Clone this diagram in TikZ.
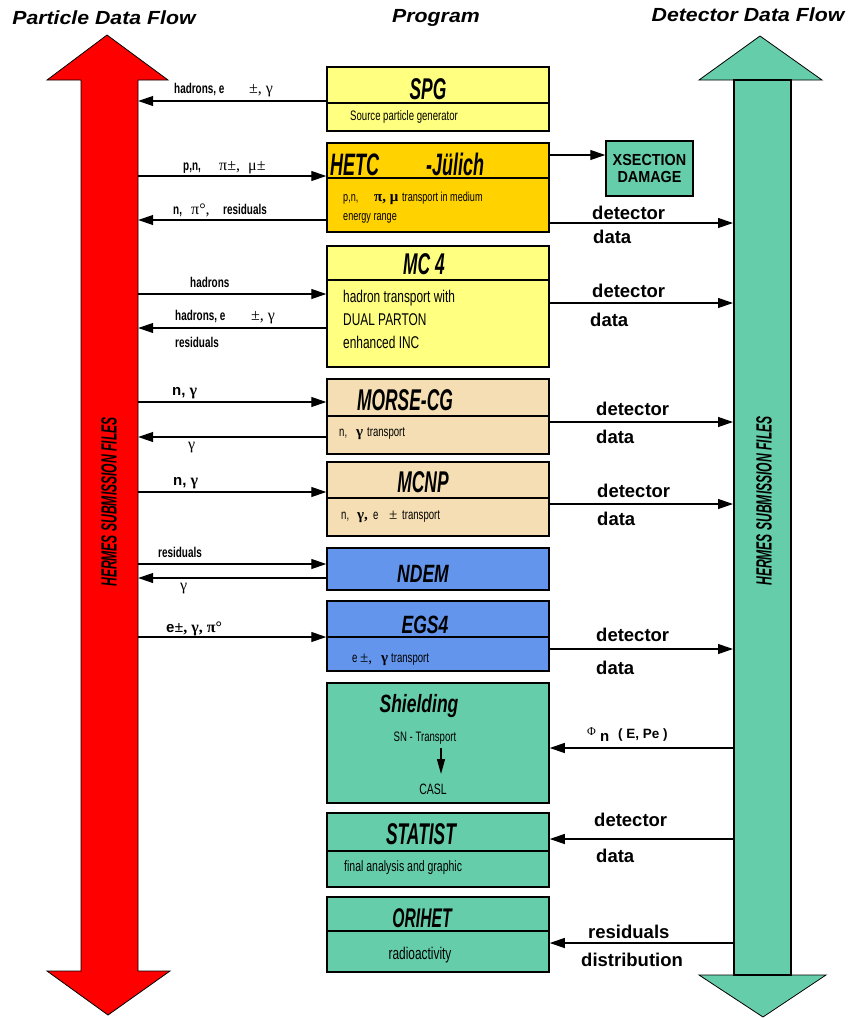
\documentclass[tikz,border=0pt]{standalone}
\usepackage{fontspec}
\setmainfont{Liberation Sans}
\newfontfamily\titf[FakeStretch=1.12]{Liberation Sans}
\newfontfamily\condf[FakeStretch=0.58]{Liberation Sans}
\newfontfamily\condg[FakeStretch=0.7]{Liberation Sans}
\newfontfamily\vcf[FakeStretch=0.55]{Liberation Sans}
\newfontfamily\narf[FakeStretch=0.7]{Liberation Sans}
\newfontfamily\xsf[FakeStretch=0.9]{Liberation Sans}
\newfontfamily\symf{Liberation Serif}
\usetikzlibrary{arrows.meta}
\newcommand\fsz[1]{\fontsize{#1}{#1}\selectfont}
\newcommand\lbf{\narf\bfseries\fsz{14.2}}
\newcommand\gkf{\symf\fsz{16}}
\newcommand\dlf{\bfseries\fsz{18.5}}
\definecolor{cred}{HTML}{FF0000}
\definecolor{cyel}{HTML}{FFFF80}
\definecolor{cgold}{HTML}{FFD200}
\definecolor{cwheat}{HTML}{F5DEB3}
\definecolor{cblue}{HTML}{6495ED}
\definecolor{cgreen}{HTML}{66CDAA}
\tikzset{
  progbox/.style={draw=black, line width=1.5pt, minimum width=222pt, inner sep=0pt},
  conn/.style={line width=1.2pt, -{Triangle[length=15pt,width=10pt]}},
  lab/.style={inner sep=0pt, anchor=base west},
  labc/.style={inner sep=0pt, anchor=base},
  ttl/.style={inner sep=0pt, anchor=base},
}
\begin{document}
\begin{tikzpicture}[x=1pt,y=-1pt]
\useasboundingbox (0,0) rectangle (851,1018);

% titles
\node[inner sep=0] (h1) at (104,18) {\titf\bfseries\itshape\fsz{19}Particle Data Flow};
\node[inner sep=0] (h2) at (436,18) {\titf\bfseries\itshape\fsz{19}Program};
\node[inner sep=0] (h3) at (748,15) {\titf\bfseries\itshape\fsz{19}Detector Data Flow};

% red arrow
\draw[fill=cred, line width=0.8pt] (107,35) -- (168,80) -- (138,80) -- (138,971) -- (170,971)
  -- (108,1015) -- (47,971) -- (81,971) -- (81,80) -- (47,80) -- cycle;
\node[inner sep=0pt, minimum width=57pt, minimum height=891pt] (redbar) at (109.5,525.5) {};
\node[rotate=90, inner sep=0] (vt1) at (109,502) {\vcf\bfseries\itshape\fsz{22}HERMES SUBMISSION FILES};

% green arrow
\draw[fill=cgreen, line width=0.8pt] (760,36) -- (822,80) -- (699,80) -- cycle;
\draw[fill=cgreen, line width=0.8pt] (699,975) -- (826,975) -- (763,1017) -- cycle;
\node[draw, fill=cgreen, line width=2pt, inner sep=0pt, minimum width=57pt, minimum height=895pt] (greenbar) at (762.5,527.5) {};
\node[rotate=90, inner sep=0] (vt2) at (764,501) {\vcf\bfseries\itshape\fsz{22}HERMES SUBMISSION FILES};

% program boxes
\node[progbox, fill=cyel, minimum height=64pt] (spg) at (438,99) {};
\draw[line width=1.5pt] (spg.west |- 0,103) -- (spg.east |- 0,103);
\node[progbox, fill=cgold, minimum height=89pt] (hetc) at (438,187.5) {};
\draw[line width=1.5pt] (hetc.west |- 0,178) -- (hetc.east |- 0,178);
\node[progbox, fill=cyel, minimum height=121pt] (mc4) at (438,306.5) {};
\draw[line width=1.5pt] (mc4.west |- 0,280) -- (mc4.east |- 0,280);
\node[progbox, fill=cwheat, minimum height=75pt] (morse) at (438,416.5) {};
\draw[line width=1.5pt] (morse.west |- 0,416) -- (morse.east |- 0,416);
\node[progbox, fill=cwheat, minimum height=74pt] (mcnp) at (438,499) {};
\draw[line width=1.5pt] (mcnp.west |- 0,498) -- (mcnp.east |- 0,498);
\node[progbox, fill=cblue, minimum height=42pt] (ndem) at (438,569) {};
\node[progbox, fill=cblue, minimum height=70pt] (egs) at (438,636) {};
\draw[line width=1.5pt] (egs.west |- 0,637) -- (egs.east |- 0,637);
\node[progbox, fill=cgreen, minimum height=120pt] (shield) at (438,743) {};
\node[progbox, fill=cgreen, minimum height=74pt] (statist) at (438,850) {};
\draw[line width=1.5pt] (statist.west |- 0,851) -- (statist.east |- 0,851);
\node[progbox, fill=cgreen, minimum height=75pt] (orihet) at (438,934.5) {};
\draw[line width=1.5pt] (orihet.west |- 0,931) -- (orihet.east |- 0,931);

\node[draw, fill=cgreen, line width=1.5pt, inner sep=0pt, minimum width=87pt, minimum height=55pt, align=center] (xsec) at (649.5,168.5)
  {\xsf\bfseries\fsz{16}XSECTION\\[5pt]\xsf\bfseries\fsz{16}DAMAGE};

% box titles
\node[ttl] (t1) at (428,99) {\condf\bfseries\itshape\fsz{30}SPG};
\node[ttl, anchor=base west] (t2a) at (330,175) {\condf\bfseries\itshape\fsz{31}HETC};
\node[ttl, anchor=base west] (t2b) at (426,175) {\condf\bfseries\itshape\fsz{31}-Jülich};
\node[ttl] (t3) at (424,274) {\condf\bfseries\itshape\fsz{30}MC 4};
\node[ttl] (t4) at (405,410) {\condf\bfseries\itshape\fsz{30}MORSE-CG};
\node[ttl] (t5) at (423,492) {\condf\bfseries\itshape\fsz{30}MCNP};
\node[ttl] (t6) at (423,582) {\condg\bfseries\itshape\fsz{25}NDEM};
\node[ttl] (t7) at (425,633) {\condg\bfseries\itshape\fsz{25}EGS4};
\node[ttl] (t8) at (419,712) {\condg\bfseries\itshape\fsz{25}Shielding};
\node[ttl] (t9) at (421,844) {\condf\bfseries\itshape\fsz{30}STATIST};
\node[ttl] (t10) at (422,927) {\condf\bfseries\itshape\fsz{27}ORIHET};

% box bodies
\node[lab] (b1) at (350,120) {\narf\fsz{13.7}Source particle generator};
\node[lab] (b2a) at (343,201) {\narf\fsz{13}p,n,};
\node[lab] (b2b) at (374,201) {\symf\bfseries\fsz{15}π, μ};
\node[lab] (b2c) at (402,201) {\narf\fsz{13}transport in medium};
\node[lab] (b2d) at (343,220) {\narf\fsz{13}energy range};
\node[lab] (b3a) at (343,302) {\narf\fsz{17}hadron transport with};
\node[lab] (b3b) at (343,325) {\narf\fsz{17}DUAL PARTON};
\node[lab] (b3c) at (343,348) {\narf\fsz{17}enhanced INC};
\node[lab] (b4a) at (339,436) {\narf\fsz{13.7}n,};
\node[lab] (b4b) at (356,436) {\symf\bfseries\fsz{15}γ};
\node[lab] (b4c) at (367,436) {\narf\fsz{13.7}transport};
\node[lab] (b5a) at (341,519) {\narf\fsz{13.7}n,};
\node[lab] (b5b) at (357,519) {\symf\bfseries\fsz{15}γ,};
\node[lab] (b5c) at (373,519) {\narf\fsz{13.7}e};
\node[lab] (b5d) at (389,519) {\symf\fsz{15}±};
\node[lab] (b5e) at (402,519) {\narf\fsz{13.7}transport};
\node[lab] (b7a) at (352,662) {\narf\fsz{13.7}e};
\node[lab] (b7b) at (360,662) {\symf\fsz{15}±,};
\node[lab] (b7c) at (381,662) {\symf\bfseries\fsz{15}γ};
\node[lab] (b7d) at (391,662) {\narf\fsz{13.7}transport};
\node[labc] (b8a) at (425,741) {\narf\fsz{13.7}SN - Transport};
\coordinate (sa) at (441,748);
\coordinate (sb) at (441,774);
\draw[line width=1.2pt, -{Triangle[length=15pt,width=8pt]}] (sa) -- (sb);
\node[labc] (b8b) at (433,794) {\narf\fsz{15}CASL};
\node[lab] (b9) at (344,871) {\narf\fsz{15}final analysis and graphic};
\node[labc] (b10) at (420,959) {\narf\fsz{17}radioactivity};

% left connectors
\draw[conn] (spg.west |- 0,101) -- (redbar.east |- 0,101);
\node[lab] (l1a) at (174,93) {\lbf hadrons, e};
\node[lab] (l1b) at (249,93) {\gkf ±, γ};

\draw[conn] (redbar.east |- 0,176) -- (hetc.west |- 0,176);
\node[lab] (l2a) at (183,170) {\lbf p,n,};
\node[lab] (l2b) at (219,170) {\gkf π±,};
\node[lab] (l2c) at (248,170) {\gkf μ±};
\draw[conn] (hetc.west |- 0,220) -- (redbar.east |- 0,220);
\node[lab] (l3a) at (173,214) {\lbf n,};
\node[lab] (l3b) at (191,214) {\gkf π°,};
\node[lab] (l3c) at (223,214) {\lbf residuals};

\draw[conn] (redbar.east |- 0,294) -- (mc4.west |- 0,294);
\node[lab] (l4) at (190,287) {\lbf hadrons};
\draw[conn] (mc4.west |- 0,328) -- (redbar.east |- 0,328);
\node[lab] (l5a) at (175,320) {\lbf hadrons, e};
\node[lab] (l5b) at (251,320) {\gkf ±, γ};
\node[lab] (l5c) at (175,347) {\lbf residuals};

\draw[conn] (redbar.east |- 0,402) -- (morse.west |- 0,402);
\node[lab] (l6) at (172,395) {\bfseries\fsz{15}n, {\gkf γ}};
\draw[conn] (morse.west |- 0,437) -- (redbar.east |- 0,437);
\node[lab] (l7) at (188,449) {\gkf γ};

\draw[conn] (redbar.east |- 0,492) -- (mcnp.west |- 0,492);
\node[lab] (l8) at (173,485) {\bfseries\fsz{15}n, {\gkf γ}};

\draw[conn] (redbar.east |- 0,564) -- (ndem.west |- 0,564);
\node[lab] (l9) at (158,557) {\lbf residuals};
\draw[conn] (ndem.west |- 0,578) -- (redbar.east |- 0,578);
\node[lab] (l10) at (180,590) {\gkf γ};

\draw[conn] (redbar.east |- 0,637) -- (egs.west |- 0,637);
\node[lab] (l11) at (166,632) {\bfseries\fsz{15}e{\gkf ±, γ, π°}};

% right connectors
\draw[conn] (hetc.east |- 0,155) -- (xsec.west |- 0,155);

\draw[conn] (hetc.east |- 0,223) -- (greenbar.west |- 0,223);
\node[lab] (r1a) at (592,219) {\dlf detector};
\node[lab] (r1b) at (593,243) {\dlf data};
\draw[conn] (mc4.east |- 0,303) -- (greenbar.west |- 0,303);
\node[lab] (r2a) at (592,297) {\dlf detector};
\node[lab] (r2b) at (590,326) {\dlf data};
\draw[conn] (morse.east |- 0,422) -- (greenbar.west |- 0,422);
\node[lab] (r3a) at (596,415) {\dlf detector};
\node[lab] (r3b) at (596,443) {\dlf data};
\draw[conn] (mcnp.east |- 0,504) -- (greenbar.west |- 0,504);
\node[lab] (r4a) at (597,497) {\dlf detector};
\node[lab] (r4b) at (597,525) {\dlf data};
\draw[conn] (egs.east |- 0,649) -- (greenbar.west |- 0,649);
\node[lab] (r5a) at (596,641) {\dlf detector};
\node[lab] (r5b) at (596,674) {\dlf data};

\draw[conn] (greenbar.west |- 0,748) -- (shield.east |- 0,748);
\node[lab] (r6a) at (587,735) {\symf\fsz{12}Φ};
\node[lab] (r6b) at (600,741) {\bfseries\fsz{15}n};
\node[lab] (r6c) at (618,738) {\bfseries\fsz{13.5}( E, Pe )};

\draw[conn] (greenbar.west |- 0,839) -- (statist.east |- 0,839);
\node[lab] (r7a) at (594,826) {\dlf detector};
\node[lab] (r7b) at (596,862) {\dlf data};
\draw[conn] (greenbar.west |- 0,943) -- (orihet.east |- 0,943);
\node[lab] (r8a) at (588,938) {\dlf residuals};
\node[lab] (r8b) at (581,966) {\dlf distribution};
\end{tikzpicture}
\end{document}
